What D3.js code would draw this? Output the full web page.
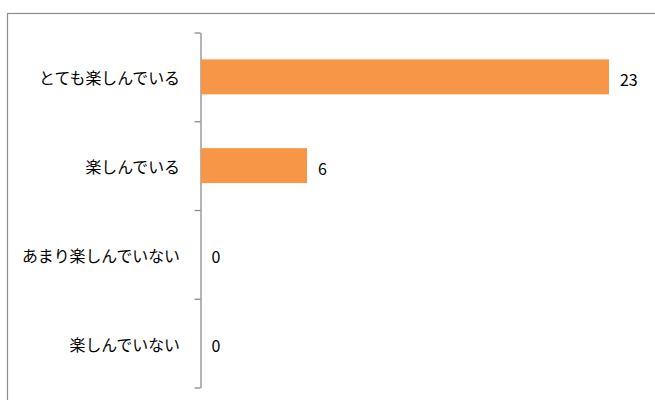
<!DOCTYPE html>
<html>
<head>
<meta charset="utf-8">
<script src="https://cdn.jsdelivr.net/npm/d3@7"></script>
<style>
  html, body { margin: 0; padding: 0; background: #fff; }
  svg { display: block; }
  text { font-family: "Noto Sans CJK JP", "Noto Sans", sans-serif; fill: #000; }
</style>
</head>
<body>
<svg id="chart" width="655" height="400"></svg>
<script>
// Survey answers and their counts
const categories = ["とても楽しんでいる", "楽しんでいる", "あまり楽しんでいない", "楽しんでいない"];
const counts = [23, 6, 0, 0];
const valueMax = 25;

const svg = d3.select("#chart");
const W = 655, H = 400;

// Outer chart frame
svg.append("rect")
  .attr("x", 7.5).attr("y", 13.5)
  .attr("width", W).attr("height", H)
  .attr("fill", "none")
  .attr("stroke", "#8c8c8c")
  .attr("stroke-width", 1.2);

const plotTop = 32.5, plotBottom = 387.5, axisX = 200.5;

const x = d3.scaleLinear().domain([0, valueMax]).range([axisX, 644.5]);

const y = d3.scaleBand()
  .domain(categories)
  .range([plotTop, plotBottom])
  .paddingInner(0.606)
  .paddingOuter(0.303);

// Category axis: vertical line with ticks on the band boundaries
const edges = d3.scaleLinear().domain([0, categories.length]).range([plotTop, plotBottom]);
const axis = svg.append("g")
  .attr("transform", `translate(${axisX},0)`)
  .call(d3.axisLeft(edges)
    .tickValues(d3.range(categories.length + 1))
    .tickFormat("")
    .tickSize(6)
    .tickSizeOuter(0));
axis.selectAll("path, line").attr("stroke", "#8c8c8c").attr("stroke-width", 1.3);

// Category labels
svg.append("g").selectAll("text")
  .data(categories)
  .join("text")
  .attr("x", 180)
  .attr("y", d => y(d) + y.bandwidth() / 2 + 1)
  .attr("text-anchor", "end")
  .attr("dominant-baseline", "central")
  .attr("font-size", 15.9)
  .text(d => d);

// Bars
svg.append("g").selectAll("rect")
  .data(categories)
  .join("rect")
  .attr("x", x(0) + 0.5)
  .attr("y", d => y(d))
  .attr("width", (d, i) => Math.max(0, x(counts[i]) - x(0) - 0.5))
  .attr("height", y.bandwidth())
  .attr("fill", "#F79646");

// Value labels
svg.append("g").selectAll("text")
  .data(categories)
  .join("text")
  .attr("x", (d, i) => x(counts[i]) + 11)
  .attr("y", d => y(d) + y.bandwidth() / 2 + 2)
  .attr("dominant-baseline", "central")
  .attr("font-size", 16)
  .text((d, i) => counts[i]);
</script>
</body>
</html>
